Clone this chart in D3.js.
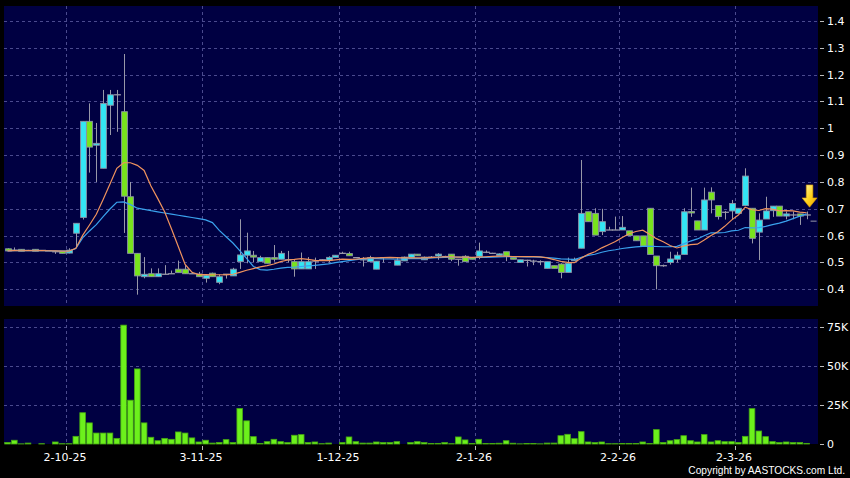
<!DOCTYPE html>
<html><head><meta charset="utf-8">
<script src="https://cdn.jsdelivr.net/npm/d3@7"></script>
<style>html,body{margin:0;padding:0;background:#000;} svg{display:block;}</style>
</head><body><svg id="c" width="850" height="478"></svg>
<script>
// ---------- DATA ----------
const opens = [
0.551,0.546,0.549,0.545,0.549,0.545,0.543,0.540,0.542,0.535,
0.609,0.668,1.026,0.937,0.851,1.086,1.125,1.062,0.745,0.534,
0.447,0.458,0.447,0.456,0.458,0.475,0.475,0.458,0.457,0.441,
0.460,0.426,0.456,0.450,0.503,0.527,0.527,0.503,0.518,0.518,
0.512,0.510,0.503,0.476,0.476,0.505,0.510,0.509,0.519,0.534,
0.533,0.518,0.510,0.503,0.475,0.518,0.518,0.490,0.506,0.519,
0.531,0.510,0.520,0.524,0.522,0.531,0.512,0.523,0.518,0.523,
0.538,0.534,0.530,0.540,0.518,0.500,0.508,0.505,0.503,0.478,
0.488,0.494,0.463,0.507,0.553,0.689,0.683,0.615,0.621,0.621,
0.621,0.618,0.599,0.599,0.702,0.524,0.488,0.500,0.512,0.530,
0.690,0.655,0.621,0.762,0.712,0.687,0.692,0.683,0.712,0.702,
0.613,0.662,0.693,0.710,0.673,0.677,0.681,0.677];
const highs = [
0.553,0.556,0.549,0.547,0.549,0.546,0.544,0.542,0.542,0.553,
0.646,1.026,1.093,1.020,1.143,1.143,1.143,1.277,0.800,0.534,
0.520,0.478,0.478,0.490,0.470,0.507,0.490,0.465,0.465,0.455,
0.462,0.455,0.456,0.480,0.661,0.611,0.543,0.525,0.518,0.565,
0.543,0.543,0.510,0.537,0.520,0.518,0.512,0.523,0.527,0.540,
0.540,0.520,0.520,0.525,0.505,0.518,0.520,0.520,0.522,0.531,
0.531,0.522,0.524,0.535,0.525,0.531,0.512,0.527,0.518,0.574,
0.545,0.536,0.534,0.540,0.518,0.510,0.510,0.510,0.508,0.503,
0.488,0.497,0.518,0.518,0.882,0.689,0.702,0.700,0.633,0.671,
0.673,0.618,0.599,0.599,0.702,0.524,0.492,0.540,0.540,0.702,
0.779,0.655,0.779,0.780,0.712,0.692,0.733,0.702,0.851,0.702,
0.683,0.745,0.710,0.710,0.690,0.690,0.681,0.690];
const lows = [
0.543,0.546,0.542,0.545,0.542,0.545,0.543,0.532,0.534,0.534,
0.554,0.660,0.835,0.800,0.851,0.975,0.987,0.610,0.534,0.380,
0.441,0.447,0.447,0.455,0.458,0.462,0.458,0.458,0.447,0.425,
0.447,0.419,0.440,0.450,0.476,0.497,0.500,0.503,0.497,0.503,
0.512,0.500,0.447,0.476,0.476,0.476,0.510,0.500,0.519,0.534,
0.525,0.518,0.485,0.503,0.475,0.500,0.518,0.490,0.506,0.519,
0.525,0.510,0.518,0.510,0.522,0.505,0.488,0.503,0.512,0.512,
0.535,0.534,0.528,0.505,0.512,0.500,0.485,0.490,0.490,0.478,
0.478,0.441,0.463,0.507,0.553,0.652,0.602,0.602,0.621,0.621,
0.621,0.600,0.581,0.561,0.530,0.400,0.484,0.492,0.500,0.530,
0.670,0.621,0.621,0.683,0.660,0.660,0.661,0.683,0.712,0.571,
0.509,0.662,0.670,0.673,0.661,0.661,0.640,0.661];
const closes = [
0.543,0.546,0.542,0.545,0.542,0.545,0.543,0.540,0.534,0.546,
0.646,1.026,0.930,0.944,1.093,1.125,1.125,0.747,0.534,0.450,
0.456,0.447,0.458,0.456,0.458,0.462,0.458,0.458,0.447,0.452,
0.447,0.447,0.456,0.475,0.528,0.543,0.520,0.518,0.497,0.512,
0.534,0.510,0.476,0.503,0.503,0.505,0.510,0.519,0.527,0.534,
0.525,0.518,0.510,0.518,0.505,0.518,0.518,0.507,0.520,0.531,
0.525,0.520,0.520,0.531,0.522,0.512,0.512,0.503,0.512,0.543,
0.538,0.534,0.532,0.524,0.512,0.510,0.508,0.505,0.503,0.503,
0.478,0.463,0.497,0.512,0.683,0.652,0.602,0.652,0.621,0.621,
0.631,0.600,0.581,0.561,0.530,0.488,0.488,0.513,0.527,0.689,
0.685,0.621,0.733,0.733,0.671,0.687,0.720,0.702,0.822,0.590,
0.658,0.692,0.710,0.673,0.681,0.677,0.673,0.677];
// volume in thousands of shares
const volumes = [
1.0,2.4,0.1,0.6,0,0.2,0,1.3,0.2,0.2,
4.9,20,13.5,7,7,7,3.6,76,28,48,
13.5,4.3,2.1,3.6,3.0,7.7,7.0,3.9,1.3,2.4,
0.6,1.0,2.8,0.9,22.7,14.8,4.7,0.4,1.5,3.0,
1.5,0.9,5.6,6.0,0.9,1.3,0.2,0.6,0,0.9,
4.5,1.5,0.6,0.6,1.3,0.9,0.9,1.5,0,0.9,
1.5,0.9,0.3,0.4,0.9,0.2,4.5,2.6,0.3,3.0,
0.3,0.3,0.5,2.1,0.5,0.1,0.3,0.3,0.1,0.6,
0.6,5.3,6.2,3.4,7.9,1.3,0.9,1.3,0.2,0.2,
0.3,0.3,0.3,1.3,0.3,9.2,1.0,2.1,2.8,5.3,
2.1,1.3,6.0,1.3,2.1,1.5,1.5,1.0,4.9,22.6,
8.3,4.7,1.5,0.9,1.3,0.9,0.9,0.4];
const pendingPrice = 0.654;          // short grey dash in the last (empty) slot
const dateLabels = ["2-10-25","3-11-25","1-12-25","2-1-26","2-2-26","2-3-26"];
const dateSlots  = [9,29,49,69,90,107];
const priceTicks = [0.4,0.5,0.6,0.7,0.8,0.9,1.0,1.1,1.2,1.3,1.4];
const volTicks = [0,25,50,75];
const volTickLabels = ["0","25K","50K","75K"];
const maShort = 10, maLong = 20;

// ---------- LAYOUT ----------
const W = 850, H = 478;
const L = 4, R = 818;
const mainTop = 6, mainBot = 306, volTop = 319, volBot = 444;
const nSlots = closes.length + 1;

const svg = d3.select("#c");
svg.append("rect").attr("width", W).attr("height", H).attr("fill", "#000");
const panelFill = "#000042";
svg.append("rect").attr("x", L).attr("y", mainTop).attr("width", R - L).attr("height", mainBot - mainTop).attr("fill", panelFill);
svg.append("rect").attr("x", L).attr("y", volTop).attr("width", R - L).attr("height", volBot - volTop).attr("fill", panelFill);

const x = d3.scaleBand().domain(d3.range(nSlots)).range([4.1, 816.9]).padding(0);
const bw = x.bandwidth();
const cx = i => x(i) + bw / 2;
const y = d3.scaleLinear().domain([0.4, 1.4]).range([289.3, 21]);
const yv = d3.scaleLinear().domain([0, 75]).range([444, 326.7]);

const gridColor = "#4a4a8e";
const grid = svg.append("g").attr("stroke", gridColor).attr("stroke-width", 1).attr("stroke-dasharray", "3,3");
priceTicks.forEach(t => {
  const yy = Math.round(y(t)) + 0.5;
  grid.append("line").attr("x1", L).attr("x2", R).attr("y1", yy).attr("y2", yy);
});
volTicks.filter(t => t > 0).forEach(t => {
  const yy = Math.round(yv(t)) + 0.5;
  grid.append("line").attr("x1", L).attr("x2", R).attr("y1", yy).attr("y2", yy);
});
dateSlots.forEach(s => {
  const xx = Math.round(x(s)) + 0.5;
  grid.append("line").attr("x1", xx).attr("x2", xx).attr("y1", mainTop).attr("y2", mainBot);
  grid.append("line").attr("x1", xx).attr("x2", xx).attr("y1", volTop).attr("y2", volBot);
});

// ---------- VOLUME ----------
svg.append("g").selectAll("rect").data(volumes).join("rect")
  .attr("x", (d, i) => x(i) + 0.6)
  .attr("width", bw - 1.2)
  .attr("y", d => yv(d))
  .attr("height", d => Math.max(0, yv(0) - yv(d)))
  .attr("fill", "#6cf01c")
  .attr("stroke", d => d > 0 ? "#46a812" : "none")
  .attr("stroke-width", 0.8);

// ---------- MOVING AVERAGES (of the closes above) ----------
function movingAvg(vals, n) {
  return vals.map((_, i) => d3.mean(vals.slice(Math.max(0, i - n + 1), i + 1)));
}
const ma10 = movingAvg(closes, maShort);
const ma20 = movingAvg(closes, maLong);

// ---------- CANDLES ----------
const upCol = "#33e5f4", downCol = "#78e31c", wickCol = "#9898a8", edgeCol = "#8c93a6";
const cg = svg.append("g");
closes.forEach((c, i) => {
  const o = opens[i], h = highs[i], l = lows[i];
  const xc = Math.round(cx(i)) + 0.5;
  cg.append("line").attr("x1", xc).attr("x2", xc).attr("y1", y(h)).attr("y2", y(l))
    .attr("stroke", wickCol).attr("stroke-width", 1);
  const half = 2.9;
  if (Math.abs(c - o) < 1e-9) {
    cg.append("line").attr("x1", xc - half - 0.5).attr("x2", xc + half + 0.5)
      .attr("y1", y(c)).attr("y2", y(c)).attr("stroke", wickCol).attr("stroke-width", 1.3);
  } else {
    const top = y(Math.max(o, c)), bot = y(Math.min(o, c));
    cg.append("rect").attr("x", xc - half).attr("width", half * 2)
      .attr("y", top).attr("height", Math.max(1.5, bot - top))
      .attr("fill", c > o ? upCol : downCol)
      .attr("stroke", edgeCol).attr("stroke-width", 0.9);
  }
});
// pending dash in last slot
const lastSlot = closes.length;
svg.append("line").attr("x1", x(lastSlot) + 0.5).attr("x2", x(lastSlot) + bw - 0.3)
  .attr("y1", y(pendingPrice)).attr("y2", y(pendingPrice))
  .attr("stroke", wickCol).attr("stroke-width", 1);

const line = d3.line().x((d, i) => cx(i)).y(d => y(d));
svg.append("path").attr("d", line(ma20)).attr("fill", "none").attr("stroke", "#3aa2ee").attr("stroke-width", 1.2);
svg.append("path").attr("d", line(ma10)).attr("fill", "none").attr("stroke", "#f0935e").attr("stroke-width", 1.2);

// ---------- ARROW ----------
const defs = svg.append("defs");
const grad = defs.append("linearGradient").attr("id", "ag").attr("x1", "0").attr("x2", "1").attr("y1", "0").attr("y2", "1");
grad.append("stop").attr("offset", "0%").attr("stop-color", "#fff9b0");
grad.append("stop").attr("offset", "55%").attr("stop-color", "#ffd21a");
grad.append("stop").attr("offset", "100%").attr("stop-color", "#e6a000");
const ax = x(lastSlot) - 0.5, atip = y(0.706);
svg.append("path")
  .attr("d", `M${ax-3.3},${atip-22.3} H${ax+3.3} V${atip-9.3} H${ax+7.5} L${ax},${atip} L${ax-7.5},${atip-9.3} H${ax-3.3} Z`)
  .attr("fill", "url(#ag)").attr("stroke", "#d99800").attr("stroke-width", 0.6);

// ---------- AXES TEXT ----------
const font = "DejaVu Sans";
const axg = svg.append("g").attr("font-family", font).attr("font-size", 11).attr("fill", "#fff");
priceTicks.forEach(t => {
  const yy = Math.round(y(t)) + 0.5;
  svg.append("line").attr("x1", 820).attr("x2", 824).attr("y1", yy).attr("y2", yy).attr("stroke", "#bbb");
  axg.append("text").attr("x", 827).attr("y", y(t)).attr("dy", "0.36em").text(String(+t.toFixed(1)));
});
volTicks.forEach((t, k) => {
  const yy = Math.round(yv(t)) + 0.5;
  svg.append("line").attr("x1", 820).attr("x2", 824).attr("y1", yy).attr("y2", yy).attr("stroke", "#bbb");
  axg.append("text").attr("x", 827).attr("y", yv(t)).attr("dy", "0.36em").text(volTickLabels[k]);
});
dateSlots.forEach((s, k) => {
  const xx = Math.round(x(s)) + 0.5;
  svg.append("line").attr("x1", xx).attr("x2", xx).attr("y1", 446).attr("y2", 450).attr("stroke", "#bbb");
  axg.append("text").attr("x", xx - 1.5).attr("y", 461).attr("text-anchor", "middle").text(dateLabels[k]);
});
svg.append("text").attr("x", 845).attr("y", 474).attr("text-anchor", "end")
  .attr("font-family", "Liberation Sans").attr("font-size", 10.2).attr("fill", "#fff")
  .text("Copyright by AASTOCKS.com Ltd.");
</script>
</body></html>
